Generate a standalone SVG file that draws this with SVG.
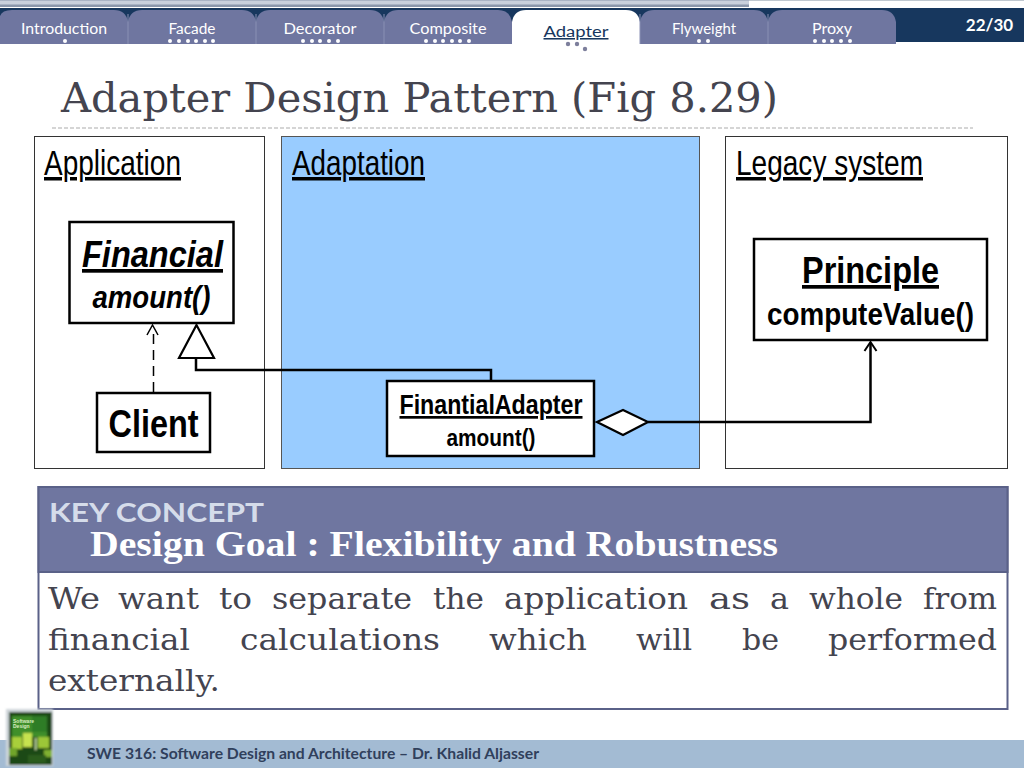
<svg xmlns="http://www.w3.org/2000/svg" width="1024" height="768" viewBox="0 0 1024 768">
<defs>
<style>
.tab{fill:#6f76a0}
.tabt{font-family:Lato,"Open Sans",sans-serif;font-size:15.500px;fill:#fff;text-anchor:middle}
.dot{fill:#fff}
.dot2{fill:#7d7f9c}
.panel{fill:#fff;stroke:#333;stroke-width:1}
.h{font-family:"Liberation Sans",Arial,sans-serif;font-size:35px;fill:#000;text-decoration:underline}
.box{fill:#fff;stroke:#000;stroke-width:2.500}
.t{font-family:"Liberation Sans",Arial,sans-serif;font-weight:bold;fill:#000;text-anchor:middle}
.conn{fill:none;stroke:#000;stroke-width:2.500}
.body{font-family:"DejaVu Serif","Liberation Serif",serif;font-size:29px;fill:#44444f}
</style>
<filter id="soft" x="-5%" y="-5%" width="110%" height="110%"><feGaussianBlur stdDeviation="0.800"/></filter>
</defs>
<rect width="1024" height="768" fill="#fff"/>
<g id="header">
<rect x="0" y="0" width="749" height="7" fill="#a9b3c4"/>
<rect x="0" y="1" width="749" height="3" fill="#c9d0dc"/>
<rect x="749" y="0" width="275" height="8" fill="#fff"/>
<rect x="749" y="0" width="275" height="1" fill="#c0c8d0"/>
<rect x="0" y="5" width="749" height="2" fill="#8a96aa"/>
<rect x="0" y="8" width="1024" height="34" fill="#17375e"/>
<text x="989.500" y="31" font-family="Lato,'Open Sans',sans-serif" font-weight="bold" font-size="17" fill="#fff" text-anchor="middle">22/30</text>
</g>
<g id="tabs">
<path class="tab" d="M0 44V16Q2 10 12 10H114Q126 10 128 22V44Z"/>
<path class="tab" d="M128 44V22Q130 10 142 10H242Q254 10 256 22V44Z"/>
<path class="tab" d="M256 44V22Q258 10 270 10H370Q382 10 384 22V44Z"/>
<path class="tab" d="M384 44V22Q386 10 398 10H498Q510 10 512 22V44Z"/>
<path d="M512 44V22Q514 10 526 10H626Q638 10 640 22V44Z" fill="#fff"/>
<path class="tab" d="M640 44V22Q642 10 654 10H754Q766 10 768 22V44Z"/>
<path class="tab" d="M768 44V22Q770 10 782 10H882Q894 10 896 22V44Z"/>
<path d="M128 14V44M256 14V44M384 14V44M640 14V44M768 14V44" stroke="#8a90b4" stroke-width="1" fill="none"/>
<text class="tabt" x="64" y="34" textLength="86" lengthAdjust="spacingAndGlyphs">Introduction</text>
<text class="tabt" x="192" y="34" textLength="47" lengthAdjust="spacingAndGlyphs">Facade</text>
<text class="tabt" x="320" y="34" textLength="73" lengthAdjust="spacingAndGlyphs">Decorator</text>
<text class="tabt" x="448" y="34" textLength="77" lengthAdjust="spacingAndGlyphs">Composite</text>
<text class="tabt" x="576" y="37" textLength="65" lengthAdjust="spacingAndGlyphs" style="fill:#17375e;text-decoration:underline">Adapter</text>
<text class="tabt" x="704" y="34" textLength="64" lengthAdjust="spacingAndGlyphs">Flyweight</text>
<text class="tabt" x="832" y="34" textLength="40" lengthAdjust="spacingAndGlyphs">Proxy</text>
<g class="dot">
<circle cx="65" cy="41" r="2"/>
<circle cx="170" cy="41" r="2"/><circle cx="179" cy="41" r="2"/><circle cx="188" cy="41" r="2"/><circle cx="196" cy="41" r="2"/><circle cx="205" cy="41" r="2"/><circle cx="213" cy="41" r="2"/>
<circle cx="303" cy="41" r="2"/><circle cx="312" cy="41" r="2"/><circle cx="320" cy="41" r="2"/><circle cx="329" cy="41" r="2"/><circle cx="338" cy="41" r="2"/>
<circle cx="426" cy="41" r="2"/><circle cx="435" cy="41" r="2"/><circle cx="443" cy="41" r="2"/><circle cx="452" cy="41" r="2"/><circle cx="460" cy="41" r="2"/><circle cx="469" cy="41" r="2"/>
<circle cx="699" cy="41" r="2"/><circle cx="708" cy="41" r="2"/>
<circle cx="815" cy="41" r="2"/><circle cx="824" cy="41" r="2"/><circle cx="832" cy="41" r="2"/><circle cx="841" cy="41" r="2"/><circle cx="850" cy="41" r="2"/>
</g>
<g class="dot2"><circle cx="568" cy="44" r="2.200"/><circle cx="577" cy="44" r="2.200"/><circle cx="585" cy="49" r="2.200"/></g>
</g>
<g id="title">
<text x="61" y="112" font-family="'DejaVu Serif','Liberation Serif',serif" font-size="41" fill="#44444f" textLength="717" lengthAdjust="spacingAndGlyphs">Adapter Design Pattern (Fig 8.29)</text>
<path d="M52 128H973" stroke="#c8c8c8" stroke-width="1.500" stroke-dasharray="4 2" fill="none"/>
</g>
<g id="panel-application">
<rect class="panel" x="34.500" y="136.500" width="230" height="332"/>
<text class="h" x="44" y="175" textLength="137" lengthAdjust="spacingAndGlyphs">Application</text>
</g>
<g id="panel-adaptation">
<rect x="281.500" y="136.500" width="418" height="332" fill="#99ccff" stroke="#555" stroke-width="1"/>
<text class="h" x="292" y="175" textLength="133" lengthAdjust="spacingAndGlyphs">Adaptation</text>
</g>
<g id="panel-legacy">
<rect class="panel" x="725.500" y="136.500" width="282" height="332"/>
<text class="h" x="736" y="175" textLength="187" lengthAdjust="spacingAndGlyphs">Legacy system</text>
</g>
<g id="connectors">
<path class="conn" d="M153.500 392V331" stroke-dasharray="10 6" style="stroke-width:1.500"/>
<path class="conn" d="M147 335L152.500 325L158 335" style="stroke-width:1.500"/>
<path class="conn" d="M196 359V370H491V381"/>
<path d="M196.500 325L179 358H214Z" fill="#fff" stroke="#000" stroke-width="2.200"/>
<path class="conn" d="M648 422H870.500V343"/>
<path class="conn" d="M864.500 351L870.500 342L876.500 351" style="stroke-width:2"/>
<path d="M597 422L623 410L648 422L623 435Z" fill="#fff" stroke="#000" stroke-width="2.200"/>
</g>
<g id="node-financial">
<rect class="box" x="69.500" y="222" width="164" height="101"/>
<text class="t" x="152.500" y="267" font-size="37" font-style="italic" text-decoration="underline" textLength="141" lengthAdjust="spacingAndGlyphs">Financial</text>
<text class="t" x="151.500" y="308" font-size="31" font-style="italic" textLength="118" lengthAdjust="spacingAndGlyphs">amount()</text>
</g>
<g id="node-client">
<rect class="box" x="97" y="393" width="113" height="59"/>
<text class="t" x="153.500" y="437" font-size="39" textLength="90" lengthAdjust="spacingAndGlyphs">Client</text>
</g>
<g id="node-adapter">
<rect class="box" x="387" y="381" width="207" height="75"/>
<text class="t" x="491" y="414" font-size="27" text-decoration="underline" textLength="183" lengthAdjust="spacingAndGlyphs">FinantialAdapter</text>
<text class="t" x="491" y="446" font-size="24" textLength="89" lengthAdjust="spacingAndGlyphs">amount()</text>
</g>
<g id="node-principle">
<rect class="box" x="754" y="239" width="233" height="101"/>
<text class="t" x="870.500" y="283" font-size="37" text-decoration="underline" textLength="137" lengthAdjust="spacingAndGlyphs">Principle</text>
<text class="t" x="870.500" y="325" font-size="31" textLength="207" lengthAdjust="spacingAndGlyphs">computeValue()</text>
</g>
<g id="key-concept">
<rect x="38.500" y="487" width="969" height="222" fill="#fff" stroke="#5a6188" stroke-width="2"/>
<rect x="38.500" y="487" width="969" height="85" fill="#6f76a0" stroke="#5a6188" stroke-width="2"/>
<text x="49" y="522" font-family="Lato,'Open Sans',sans-serif" font-weight="bold" font-size="27" fill="#d5dcea" textLength="215" lengthAdjust="spacingAndGlyphs">KEY CONCEPT</text>
<text x="90" y="556" font-family="'Liberation Serif',serif" font-weight="bold" font-size="36" fill="#fff" textLength="688" lengthAdjust="spacingAndGlyphs">Design Goal : Flexibility and Robustness</text>
<g class="body">
<text x="48" y="609" textLength="52" lengthAdjust="spacingAndGlyphs">We</text>
<text x="118" y="609" textLength="81" lengthAdjust="spacingAndGlyphs">want</text>
<text x="219" y="609" textLength="33" lengthAdjust="spacingAndGlyphs">to</text>
<text x="272" y="609" textLength="140" lengthAdjust="spacingAndGlyphs">separate</text>
<text x="433" y="609" textLength="51" lengthAdjust="spacingAndGlyphs">the</text>
<text x="504" y="609" textLength="184" lengthAdjust="spacingAndGlyphs">application</text>
<text x="709" y="609" textLength="41" lengthAdjust="spacingAndGlyphs">as</text>
<text x="770" y="609" textLength="19" lengthAdjust="spacingAndGlyphs">a</text>
<text x="809" y="609" textLength="94" lengthAdjust="spacingAndGlyphs">whole</text>
<text x="923" y="609" textLength="74" lengthAdjust="spacingAndGlyphs">from</text>
<text x="48" y="650" textLength="142" lengthAdjust="spacingAndGlyphs">financial</text>
<text x="240" y="650" textLength="200" lengthAdjust="spacingAndGlyphs">calculations</text>
<text x="489" y="650" textLength="98" lengthAdjust="spacingAndGlyphs">which</text>
<text x="636" y="650" textLength="56" lengthAdjust="spacingAndGlyphs">will</text>
<text x="742" y="650" textLength="37" lengthAdjust="spacingAndGlyphs">be</text>
<text x="828" y="650" textLength="169" lengthAdjust="spacingAndGlyphs">performed</text>
<text x="48" y="691" textLength="172" lengthAdjust="spacingAndGlyphs">externally.</text>
</g>
</g>
<g id="footer">
<rect x="0" y="740" width="1024" height="28" fill="#a3bbd3"/>
<text x="87" y="759" font-family="Lato,'Open Sans',sans-serif" font-weight="bold" font-size="15" fill="#30405c" textLength="452" lengthAdjust="spacingAndGlyphs">SWE 316: Software Design and Architecture – Dr. Khalid Aljasser</text>
</g>
<g id="cover">
<g filter="url(#soft)">
<rect x="6" y="709" width="47" height="57" fill="#cfd6da"/>
<rect x="9" y="712" width="43" height="53" fill="#1c4a18"/>
<rect x="12" y="716" width="35" height="21" fill="#3f8f2a"/>
<rect x="32" y="716" width="15" height="16" fill="#2f7d28"/>
<rect x="12" y="737" width="10" height="12" fill="#a8cf3a"/>
<rect x="23" y="733" width="9" height="14" fill="#c6e24f"/>
<rect x="38" y="737" width="11" height="11" fill="#9cc638"/>
<rect x="9" y="748" width="8" height="8" fill="#6fa52c"/>
<rect x="44" y="750" width="8" height="7" fill="#7fb030"/>
<rect x="35" y="738" width="1.500" height="12" fill="#d6ecb0"/>
<rect x="28" y="755" width="18" height="8" fill="#2a5c1e"/>
</g>
<text x="13" y="723" font-family="'Liberation Sans',sans-serif" font-weight="bold" font-size="5" fill="#d8ecc0">Software</text>
<text x="13" y="728" font-family="'Liberation Sans',sans-serif" font-weight="bold" font-size="5" fill="#d8ecc0">Design</text>
</g>
</svg>
